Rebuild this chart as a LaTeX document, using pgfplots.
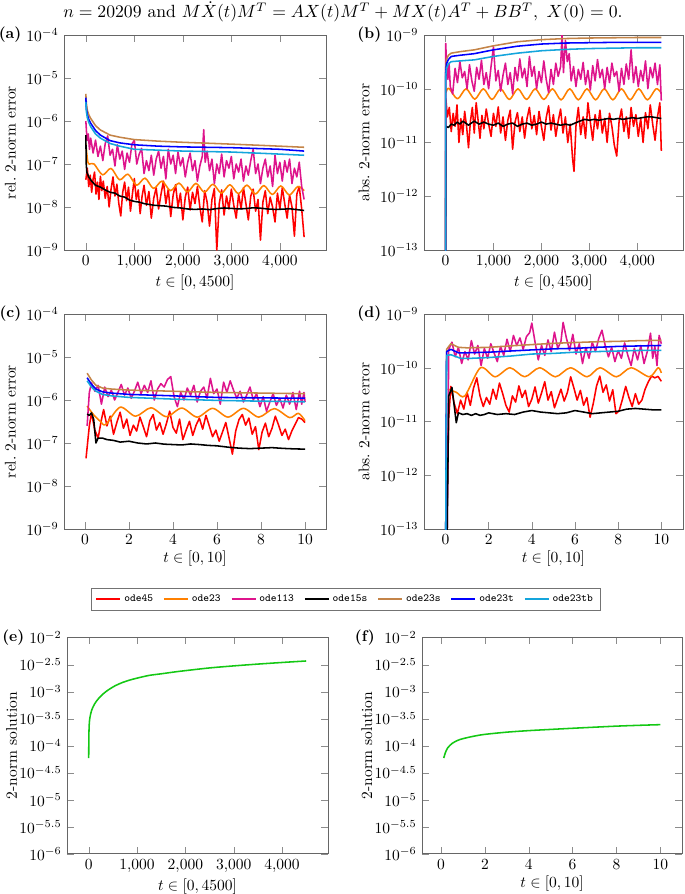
\documentclass[border=0pt]{standalone}
\usepackage{pgfplots}
\pgfplotsset{compat=1.18}
\definecolor{cfe}{RGB}{255,0,0}
\definecolor{ctt}{RGB}{255,128,0}
\definecolor{cot}{RGB}{222,20,140}
\definecolor{cfs}{RGB}{0,0,0}
\definecolor{cts}{RGB}{196,132,72}
\definecolor{ctr}{RGB}{0,0,255}
\definecolor{ctb}{RGB}{20,165,220}
\definecolor{cgr}{RGB}{20,200,20}
\pgfplotsset{
  every axis/.append style={scale only axis, yminorticks=false,
    axis line style={black!60}, tick style={black!45}},
  every axis x label/.append style={yshift=2.5pt},
  every axis plot/.append style={line width=1pt, line join=round},
}
\newcommand{\plabel}[3]{\node[anchor=east, font=\bfseries] at ([xshift=#2]#1.north west) {#3};}
\begin{document}
\begin{tikzpicture}
\useasboundingbox (0,0) rectangle (441.9pt,576.8pt);
\node[scale=1.14] at (221.3pt,569.2pt) {$n=20209$ and $M\dot{X}(t)M^T=AX(t)M^T+MX(t)A^T+BB^T,\ X(0)=0.$};

% (a)
\begin{axis}[ymode=log, anchor=south west, width=169pt, height=138.7pt, at={(41.3pt,415.5pt)}, name=pa,
  xmin=-450, xmax=4950, xtick={0,1000,2000,3000,4000}, xlabel={$t\in[0,4500]$},
  ymin=1e-9, ymax=1e-4, ytick={1e-9,1e-8,1e-7,1e-6,1e-5,1e-4}, ylabel={rel.\ 2-norm error}]
\addplot[cfe] coordinates {(0,4.3e-8)(30,8.0e-8)(60,3.0e-8)(90,5.5e-8)(120,2.2e-8)(150,4.5e-8)(180,6.5e-8)(210,2.0e-8)(240,3.8e-8)(270,1.5e-8)(300,5.2e-8)(330,2.4e-8)(360,4.0e-8)(400,1.6e-8)(440,3.0e-8)(480,1.0e-8)(520,2.6e-8)(560,5.0e-8)(600,1.8e-8)(640,3.4e-8)(680,1.2e-8)(720,6.2e-9)(760,2.2e-8)(800,3.8e-8)(840,1.4e-8)(880,2.9e-8)(920,8.0e-9)(960,2.0e-8)(1000,4.6e-8)(1040,1.5e-8)(1080,2.5e-8)(1120,7.0e-9)(1160,1.8e-8)(1200,3.2e-8)(1250,1.1e-8)(1300,2.3e-8)(1350,5.5e-9)(1400,1.6e-8)(1450,2.8e-8)(1500,9.0e-9)(1550,2.0e-8)(1600,4.0e-8)(1650,1.2e-8)(1700,2.6e-8)(1750,6.0e-9)(1800,1.9e-8)(1850,3.3e-8)(1900,1.0e-8)(1950,2.1e-8)(2000,5.0e-9)(2050,1.7e-8)(2100,2.9e-8)(2150,8.5e-9)(2200,2.2e-8)(2250,1.2e-8)(2300,3.0e-8)(2350,1.0e-8)(2400,4.5e-9)(2450,2.4e-8)(2500,1.3e-8)(2550,3.6e-9)(2600,1.5e-8)(2650,2.7e-8)(2700,1.0e-9)(2750,1.2e-8)(2800,2.5e-8)(2850,6.5e-9)(2900,1.8e-8)(2950,9.0e-9)(3000,2.6e-8)(3050,1.1e-8)(3100,5.5e-9)(3150,2.0e-8)(3200,9.0e-9)(3250,2.8e-8)(3300,1.2e-8)(3350,5.0e-9)(3400,1.8e-8)(3450,2.6e-8)(3500,8.0e-9)(3550,1.5e-8)(3600,1.7e-9)(3650,1.3e-8)(3700,2.4e-8)(3750,7.0e-9)(3800,1.7e-8)(3850,1.0e-8)(3900,4.5e-9)(3950,2.1e-8)(4000,9.0e-9)(4050,2.8e-8)(4100,1.2e-8)(4150,5.5e-9)(4200,1.9e-8)(4250,1.0e-8)(4300,2.1e-9)(4350,2.0e-8)(4400,3.0e-8)(4450,9.0e-9)(4500,2.0e-9)};
\addplot[ctt, smooth] coordinates {(0,3.0e-7)(40,1.12e-7)(80,1.0e-7)(170,1.0e-7)(345,5.6e-8)(520,7.9e-8)(695,4.3e-8)(870,5.8e-8)(1045,3.2e-8)(1220,4.7e-8)(1395,2.7e-8)(1570,4.0e-8)(1745,2.4e-8)(1920,3.6e-8)(2095,2.24e-8)(2270,3.55e-8)(2445,2.2e-8)(2620,3.4e-8)(2795,2.1e-8)(2970,3.3e-8)(3145,2.04e-8)(3320,3.24e-8)(3495,2.0e-8)(3670,3.16e-8)(3845,1.95e-8)(4020,3.1e-8)(4195,1.9e-8)(4370,3.0e-8)(4500,2.4e-8)};
\addplot[cot] coordinates {(0,1.0e-6)(25,3.5e-7)(50,5.0e-7)(75,2.2e-7)(100,4.0e-7)(150,1.8e-7)(200,3.6e-7)(250,1.5e-7)(300,2.6e-7)(350,1.2e-7)(400,3.0e-7)(450,4.5e-7)(500,1.6e-7)(550,2.2e-7)(600,9.0e-8)(650,2.8e-7)(700,1.3e-7)(750,2.0e-7)(800,7.5e-8)(850,1.8e-7)(900,1.1e-7)(950,2.9e-7)(1000,3.6e-7)(1050,1.0e-7)(1100,1.7e-7)(1150,2.3e-7)(1200,6.0e-8)(1250,1.2e-7)(1300,7.0e-8)(1350,1.6e-7)(1400,5.5e-8)(1450,1.3e-7)(1500,2.0e-7)(1550,8.0e-8)(1600,1.5e-7)(1650,4.5e-8)(1700,2.2e-7)(1750,1.0e-7)(1800,1.6e-7)(1850,6.0e-8)(1900,1.9e-7)(1950,9.0e-8)(2000,1.4e-7)(2050,5.0e-8)(2100,1.1e-7)(2150,1.8e-7)(2200,7.0e-8)(2250,1.2e-7)(2300,4.0e-8)(2350,9.0e-8)(2400,1.5e-7)(2430,6.3e-7)(2460,1.1e-7)(2500,2.0e-7)(2550,7.0e-8)(2600,1.3e-7)(2650,3.5e-8)(2700,1.0e-7)(2750,6.0e-8)(2800,1.7e-7)(2850,5.0e-8)(2900,1.2e-7)(2950,8.0e-8)(3000,1.5e-7)(3050,4.5e-8)(3100,1.0e-7)(3150,6.5e-8)(3200,1.3e-7)(3250,4.0e-8)(3300,9.0e-8)(3350,5.5e-8)(3400,1.2e-7)(3450,2.2e-7)(3500,6.0e-8)(3550,1.0e-7)(3600,3.5e-8)(3650,8.0e-8)(3700,1.3e-7)(3750,5.0e-8)(3800,9.0e-8)(3850,3.0e-8)(3900,1.6e-7)(3950,6.0e-8)(4000,1.1e-7)(4050,4.0e-8)(4100,1.2e-7)(4150,6.5e-8)(4200,1.3e-7)(4250,3.5e-8)(4300,8.0e-8)(4350,5.0e-8)(4400,1.1e-7)(4450,3.0e-8)(4500,1.5e-8)};
\addplot[cfs] coordinates {(0,4.7e-7)(8,1.0e-7)(20,6.5e-8)(60,5.0e-8)(120,4.0e-8)(200,3.2e-8)(300,2.9e-8)(400,2.5e-8)(500,2.2e-8)(600,2.1e-8)(700,1.8e-8)(800,1.7e-8)(900,1.45e-8)(1000,1.35e-8)(1100,1.3e-8)(1200,1.2e-8)(1300,1.15e-8)(1400,1.1e-8)(1500,1.08e-8)(1650,1.05e-8)(1800,9.8e-9)(1950,9.5e-9)(2100,9.0e-9)(2250,8.8e-9)(2400,9.0e-9)(2550,8.7e-9)(2700,9.2e-9)(2850,9.5e-9)(3000,9.3e-9)(3150,9.0e-9)(3300,9.2e-9)(3450,9.6e-9)(3600,9.4e-9)(3750,9.0e-9)(3900,8.8e-9)(4050,8.9e-9)(4200,9.1e-9)(4350,8.7e-9)(4500,8.3e-9)};
\addplot[cts] coordinates {(0,4.3e-6)(10,2.6e-6)(30,1.8e-6)(60,1.4e-6)(100,1.15e-6)(200,7.8e-7)(300,6.2e-7)(500,4.7e-7)(700,4.2e-7)(1000,3.7e-7)(1500,3.4e-7)(2000,3.2e-7)(2500,3.05e-7)(3000,2.9e-7)(3500,2.75e-7)(4000,2.6e-7)(4500,2.45e-7)};
\addplot[ctr] coordinates {(0,3.5e-6)(10,2.0e-6)(30,1.4e-6)(60,1.1e-6)(100,8.9e-7)(200,6.0e-7)(300,4.7e-7)(500,3.5e-7)(700,3.1e-7)(1000,2.8e-7)(1500,2.6e-7)(2000,2.5e-7)(2500,2.45e-7)(3000,2.4e-7)(3500,2.3e-7)(4000,2.2e-7)(4500,2.0e-7)};
\addplot[ctb] coordinates {(0,2.8e-6)(10,1.7e-6)(30,1.2e-6)(60,9.3e-7)(100,7.4e-7)(200,5.0e-7)(300,4.0e-7)(500,3.0e-7)(700,2.6e-7)(1000,2.2e-7)(1500,2.1e-7)(2000,2.0e-7)(2500,1.95e-7)(3000,1.9e-7)(3500,1.8e-7)(4000,1.7e-7)(4500,1.6e-7)};
\end{axis}
\plabel{pa}{-24pt}{(a)}

% (b)
\begin{axis}[ymode=log, anchor=south west, width=167.1pt, height=138.7pt, at={(273.5pt,415.5pt)}, name=pb,
  xmin=-450, xmax=4950, xtick={0,1000,2000,3000,4000}, xlabel={$t\in[0,4500]$},
  ymin=1e-13, ymax=1e-9, ytick={1e-13,1e-12,1e-11,1e-10,1e-9}, ylabel={abs.\ 2-norm error}]
\addplot[cfe] coordinates {(0,1e-14)(8,6.5e-11)(40,3.0e-11)(80,4.5e-11)(120,1.6e-11)(160,3.5e-11)(200,2.0e-11)(240,5.0e-11)(280,1.0e-11)(320,2.8e-11)(360,1.4e-11)(400,3.8e-11)(440,2.0e-11)(480,8.0e-12)(520,2.5e-11)(560,4.5e-11)(600,1.5e-11)(640,5.5e-11)(680,2.6e-11)(720,1.2e-11)(760,3.2e-11)(800,1.8e-11)(850,4.2e-11)(900,2.2e-11)(950,1.3e-11)(1000,3.5e-11)(1050,2.0e-11)(1100,4.6e-11)(1150,1.5e-11)(1200,3.0e-11)(1250,1.1e-11)(1300,2.6e-11)(1350,4.0e-11)(1400,7.5e-12)(1450,2.4e-11)(1500,3.6e-11)(1550,1.6e-11)(1600,3.0e-11)(1650,1.2e-11)(1700,2.8e-11)(1750,4.5e-11)(1800,1.8e-11)(1850,3.2e-11)(1900,1.4e-11)(1950,3.8e-11)(2000,2.0e-11)(2050,1.1e-11)(2100,2.9e-11)(2150,4.8e-11)(2200,1.7e-11)(2250,3.3e-11)(2300,1.3e-11)(2350,2.5e-11)(2400,4.2e-11)(2450,1.5e-11)(2500,3.0e-11)(2550,1.0e-11)(2600,2.2e-11)(2650,5.0e-12)(2680,2.9e-12)(2720,2.0e-11)(2770,4.5e-11)(2820,1.4e-11)(2870,3.0e-11)(2920,1.2e-11)(2970,5.5e-11)(3020,2.4e-11)(3070,1.1e-11)(3120,3.3e-11)(3170,1.8e-11)(3220,4.0e-11)(3270,1.5e-11)(3320,2.8e-11)(3370,1.0e-11)(3420,3.5e-11)(3470,2.0e-11)(3520,9.0e-12)(3570,5.6e-12)(3620,2.5e-11)(3670,4.2e-11)(3720,1.6e-11)(3770,3.0e-11)(3820,1.2e-11)(3870,4.5e-11)(3920,2.0e-11)(3970,3.3e-11)(4020,1.3e-11)(4070,2.8e-11)(4120,1.0e-11)(4170,3.6e-11)(4220,1.8e-11)(4270,5.0e-11)(4320,2.2e-11)(4370,1.1e-11)(4420,3.0e-11)(4470,5.5e-11)(4500,7.0e-12)};
\addplot[ctt, smooth] coordinates {(10,8.5e-11)(70,1.02e-10)(250,6.5e-11)(430,1.0e-10)(610,6.4e-11)(790,1.0e-10)(970,6.3e-11)(1150,1.0e-10)(1330,6.3e-11)(1510,1.0e-10)(1690,6.3e-11)(1870,1.0e-10)(2050,6.3e-11)(2230,1.0e-10)(2410,6.2e-11)(2590,1.0e-10)(2770,6.2e-11)(2950,1.0e-10)(3130,6.2e-11)(3310,1.0e-10)(3490,6.2e-11)(3670,1.0e-10)(3850,6.2e-11)(4030,1.0e-10)(4210,6.2e-11)(4390,1.0e-10)(4500,8.3e-11)};
\addplot[cot] coordinates {(0,1e-14)(5,7.0e-10)(25,2.5e-10)(50,1.5e-10)(75,3.0e-10)(100,1.1e-10)(150,8.0e-11)(200,2.4e-10)(250,1.3e-10)(300,3.2e-10)(350,1.6e-10)(400,2.1e-10)(450,1.0e-10)(500,2.8e-10)(550,1.4e-10)(600,9.0e-11)(650,2.5e-10)(700,1.5e-10)(750,3.4e-10)(800,1.2e-10)(850,2.0e-10)(900,1.0e-10)(950,2.6e-10)(1000,6.0e-10)(1050,1.4e-10)(1100,2.2e-10)(1150,9.0e-11)(1200,1.8e-10)(1250,3.0e-10)(1300,1.2e-10)(1350,2.0e-10)(1400,8.0e-11)(1450,2.5e-10)(1500,1.4e-10)(1550,3.6e-10)(1600,1.6e-10)(1650,2.4e-10)(1700,1.1e-10)(1750,4.0e-10)(1800,1.7e-10)(1850,2.6e-10)(1900,1.0e-10)(1950,2.1e-10)(2000,1.3e-10)(2050,3.3e-10)(2100,1.5e-10)(2150,8.5e-11)(2200,2.3e-10)(2250,1.2e-10)(2300,3.0e-10)(2350,1.7e-10)(2400,2.6e-10)(2430,1.0e-9)(2460,2.0e-10)(2500,8.0e-10)(2540,3.2e-10)(2580,4.5e-10)(2620,1.4e-10)(2670,2.6e-10)(2720,1.1e-10)(2770,2.3e-10)(2820,1.5e-10)(2870,3.1e-10)(2920,1.2e-10)(2970,2.2e-10)(3020,9.5e-11)(3070,2.7e-10)(3120,1.4e-10)(3170,3.5e-10)(3220,1.6e-10)(3270,2.3e-10)(3320,1.0e-10)(3370,2.5e-10)(3420,1.3e-10)(3470,3.0e-10)(3520,1.7e-10)(3570,2.1e-10)(3620,9.0e-11)(3670,2.4e-10)(3720,1.2e-10)(3770,2.9e-10)(3820,1.5e-10)(3870,5.3e-10)(3920,1.3e-10)(3970,2.6e-10)(4020,1.1e-10)(4070,2.2e-10)(4120,1.4e-10)(4170,3.3e-10)(4220,1.0e-10)(4270,2.5e-10)(4320,1.6e-10)(4370,3.0e-10)(4420,1.2e-10)(4470,2.8e-10)(4500,6.0e-11)};
\addplot[cfs] coordinates {(0,1e-14)(10,2.0e-11)(60,1.9e-11)(120,2.2e-11)(180,2.1e-11)(240,2.4e-11)(300,2.2e-11)(360,2.5e-11)(420,2.3e-11)(480,2.1e-11)(540,2.3e-11)(600,2.5e-11)(700,2.2e-11)(800,2.4e-11)(900,2.2e-11)(1000,2.1e-11)(1100,2.3e-11)(1200,2.0e-11)(1300,2.2e-11)(1400,2.3e-11)(1500,2.0e-11)(1600,2.2e-11)(1700,2.3e-11)(1800,2.1e-11)(1900,2.2e-11)(2000,2.4e-11)(2100,2.2e-11)(2200,2.3e-11)(2300,2.2e-11)(2400,2.1e-11)(2500,2.2e-11)(2600,2.1e-11)(2700,2.3e-11)(2800,2.5e-11)(2900,2.7e-11)(3000,2.6e-11)(3100,2.7e-11)(3200,2.6e-11)(3300,2.7e-11)(3400,2.8e-11)(3500,2.7e-11)(3600,2.8e-11)(3700,2.7e-11)(3800,2.8e-11)(3900,2.9e-11)(4000,2.8e-11)(4100,2.9e-11)(4200,3.0e-11)(4300,3.0e-11)(4400,2.9e-11)(4500,2.8e-11)};
\addplot[cts] coordinates {(0,1e-14)(5,2.5e-10)(20,3.5e-10)(60,4.2e-10)(120,4.6e-10)(300,4.9e-10)(600,5.3e-10)(1000,6.3e-10)(1500,7.5e-10)(2000,8.2e-10)(2500,8.6e-10)(3000,8.8e-10)(3500,8.9e-10)(4000,9.0e-10)(4500,9.0e-10)};
\addplot[ctr] coordinates {(0,1e-14)(5,2.0e-10)(20,2.9e-10)(60,3.5e-10)(120,4.0e-10)(300,4.2e-10)(600,4.5e-10)(1000,5.3e-10)(1500,6.2e-10)(2000,6.8e-10)(2500,7.1e-10)(3000,7.2e-10)(3500,7.3e-10)(4000,7.3e-10)(4500,7.3e-10)};
\addplot[ctb] coordinates {(0,1e-14)(5,1.7e-10)(20,2.4e-10)(60,2.9e-10)(120,3.2e-10)(300,3.3e-10)(600,3.45e-10)(1000,4.0e-10)(1500,4.6e-10)(2000,5.1e-10)(2500,5.4e-10)(3000,5.6e-10)(3500,5.7e-10)(4000,5.8e-10)(4500,5.8e-10)};
\end{axis}
\plabel{pb}{-24pt}{(b)}

% (c)
\begin{axis}[ymode=log, anchor=south west, width=169pt, height=138.7pt, at={(41.3pt,235.5pt)}, name=pc,
  xmin=-0.95, xmax=10.95, xtick={0,2,4,6,8,10}, xlabel={$t\in[0,10]$},
  ymin=1e-9, ymax=1e-4, ytick={1e-9,1e-8,1e-7,1e-6,1e-5,1e-4}, ylabel={rel.\ 2-norm error},
  legend columns=7, legend image post style={line width=1pt},
  legend image code/.code={\draw[#1] (0pt,0pt) -- (15.5pt,0pt);},
  legend style={at={(1.076,-0.326)}, anchor=center, draw=black!55, font=\scriptsize\ttfamily,
  /tikz/every even column/.append style={column sep=4.5pt}}]
\addplot[draw=cfe] coordinates {(0.05,4.4e-8)(0.2,2.5e-7)(0.3,5.0e-7)(0.45,2.0e-7)(0.6,1.3e-7)(0.75,3.5e-7)(0.85,6.0e-7)(1.0,2.5e-7)(1.15,4.2e-7)(1.3,1.6e-7)(1.45,3.0e-7)(1.6,5.2e-7)(1.75,2.2e-7)(1.9,3.6e-7)(2.05,1.5e-7)(2.2,2.6e-7)(2.35,1.9e-7)(2.5,4.0e-7)(2.65,2.4e-7)(2.8,1.4e-7)(2.95,3.3e-7)(3.1,4.6e-7)(3.25,2.0e-7)(3.4,3.0e-7)(3.55,1.6e-7)(3.7,2.8e-7)(3.85,5.5e-7)(4.0,2.3e-7)(4.15,1.7e-7)(4.3,3.6e-7)(4.45,1.2e-7)(4.6,2.0e-7)(4.75,3.2e-7)(4.9,1.5e-7)(5.05,2.6e-7)(5.2,3.8e-7)(5.35,2.1e-7)(5.5,4.4e-7)(5.65,2.5e-7)(5.8,1.4e-7)(5.95,2.0e-7)(6.1,1.1e-7)(6.25,1.8e-7)(6.4,3.0e-7)(6.55,1.3e-7)(6.7,5.5e-8)(6.85,1.9e-7)(7.0,3.5e-7)(7.15,4.6e-7)(7.3,2.6e-7)(7.45,3.8e-7)(7.6,1.6e-7)(7.75,2.4e-7)(7.9,7.0e-8)(8.05,1.8e-7)(8.2,2.9e-7)(8.35,1.4e-7)(8.5,2.2e-7)(8.65,4.2e-7)(8.8,2.6e-7)(8.95,1.5e-7)(9.1,2.1e-7)(9.25,1.2e-7)(9.4,1.9e-7)(9.55,2.7e-7)(9.7,3.9e-7)(9.85,3.6e-7)(10,3.0e-7)};
\addplot[draw=ctt, smooth] coordinates {(0.1,7.2e-7)(0.4,4.5e-7)(0.7,3.2e-7)(0.95,2.7e-7)(1.6,6.8e-7)(2.3,4.2e-7)(3.0,6.6e-7)(3.7,4.1e-7)(4.4,6.5e-7)(5.1,4.0e-7)(5.8,6.4e-7)(6.5,4.0e-7)(7.2,6.4e-7)(7.9,4.0e-7)(8.6,6.3e-7)(9.3,3.9e-7)(9.7,4.9e-7)(10,3.3e-7)};
\addplot[draw=cot] coordinates {(0.1,2.5e-7)(0.2,1.5e-6)(0.3,2.5e-6)(0.45,1.6e-6)(0.6,2.2e-6)(0.75,8.0e-7)(0.9,2.0e-6)(1.05,1.2e-6)(1.2,1.7e-6)(1.35,1.0e-6)(1.5,1.5e-6)(1.65,2.3e-6)(1.8,1.3e-6)(1.95,1.9e-6)(2.1,1.1e-6)(2.25,1.6e-6)(2.4,2.6e-6)(2.55,1.4e-6)(2.7,2.2e-6)(2.85,1.5e-6)(3.0,2.8e-6)(3.15,1.0e-6)(3.3,1.8e-6)(3.45,2.4e-6)(3.6,2.0e-6)(3.75,3.0e-6)(3.9,3.5e-6)(4.05,1.2e-6)(4.2,7.0e-7)(4.35,1.5e-6)(4.5,1.0e-6)(4.65,1.9e-6)(4.8,1.3e-6)(4.95,2.2e-6)(5.1,9.0e-7)(5.25,1.6e-6)(5.4,2.0e-6)(5.55,1.1e-6)(5.7,3.2e-6)(5.85,1.4e-6)(6.0,1.8e-6)(6.15,8.0e-7)(6.3,2.6e-6)(6.45,1.5e-6)(6.6,2.8e-6)(6.75,1.7e-6)(6.9,1.1e-6)(7.05,1.6e-6)(7.2,9.0e-7)(7.35,1.3e-6)(7.5,2.0e-6)(7.65,1.0e-6)(7.8,1.4e-6)(7.95,7.0e-7)(8.1,1.2e-6)(8.25,5.5e-7)(8.4,9.0e-7)(8.55,1.4e-6)(8.7,7.5e-7)(8.85,1.1e-6)(9.0,6.5e-7)(9.15,1.3e-6)(9.3,8.0e-7)(9.45,1.5e-6)(9.6,6.0e-7)(9.75,1.6e-6)(9.85,8.0e-7)(9.95,1.5e-6)(10,9.0e-7)};
\addplot[draw=cfs] coordinates {(0.1,4.7e-7)(0.2,4.4e-7)(0.3,5.0e-7)(0.4,3.5e-7)(0.5,1.0e-7)(0.6,1.3e-7)(0.8,1.3e-7)(1.0,1.2e-7)(1.3,1.15e-7)(1.6,1.05e-7)(2.0,1.1e-7)(2.4,1.0e-7)(2.8,9.5e-8)(3.2,1.0e-7)(3.6,9.4e-8)(4.0,9.2e-8)(4.4,9.0e-8)(4.8,9.5e-8)(5.2,9.2e-8)(5.6,8.8e-8)(6.0,8.6e-8)(6.5,8.0e-8)(7.0,7.6e-8)(7.5,7.4e-8)(8.0,7.6e-8)(8.5,7.8e-8)(9.0,7.5e-8)(9.5,7.3e-8)(10,7.2e-8)};
\addplot[draw=cts] coordinates {(0.1,4.2e-6)(0.3,2.9e-6)(0.5,2.2e-6)(0.8,1.9e-6)(1.2,1.8e-6)(2,1.7e-6)(3,1.65e-6)(4,1.6e-6)(6,1.5e-6)(8,1.45e-6)(10,1.4e-6)};
\addplot[draw=ctr] coordinates {(0.1,3.3e-6)(0.3,2.3e-6)(0.5,1.8e-6)(0.8,1.55e-6)(1.2,1.45e-6)(2,1.35e-6)(3,1.3e-6)(4,1.25e-6)(6,1.15e-6)(8,1.12e-6)(10,1.1e-6)};
\addplot[draw=ctb] coordinates {(0.1,2.8e-6)(0.3,2.0e-6)(0.5,1.6e-6)(0.8,1.35e-6)(1.2,1.25e-6)(2,1.15e-6)(3,1.1e-6)(4,1.05e-6)(6,9.8e-7)(8,9.4e-7)(10,9.1e-7)};
\legend{ode45,ode23,ode113,ode15s,ode23s,ode23t,ode23tb}
\end{axis}
\plabel{pc}{-24pt}{(c)}

% (d)
\begin{axis}[ymode=log, anchor=south west, width=167.1pt, height=138.7pt, at={(273.5pt,235.5pt)}, name=pd,
  xmin=-1, xmax=11, xtick={0,2,4,6,8,10}, xlabel={$t\in[0,10]$},
  ymin=1e-13, ymax=1e-9, ytick={1e-13,1e-12,1e-11,1e-10,1e-9}, ylabel={abs.\ 2-norm error}]
\addplot[cfe] coordinates {(0,1e-14)(0.05,1e-13)(0.15,1.2e-11)(0.25,4.5e-11)(0.4,2.2e-11)(0.55,1.4e-11)(0.7,2.5e-11)(0.85,1.7e-11)(1.0,3.5e-11)(1.15,2.0e-11)(1.3,4.2e-11)(1.45,6.5e-11)(1.6,3.0e-11)(1.75,1.9e-11)(1.9,2.8e-11)(2.05,2.1e-11)(2.2,4.0e-11)(2.35,2.6e-11)(2.5,5.2e-11)(2.65,3.3e-11)(2.8,2.0e-11)(2.95,1.5e-11)(3.1,3.0e-11)(3.25,2.3e-11)(3.4,4.6e-11)(3.55,2.8e-11)(3.7,3.8e-11)(3.85,1.9e-11)(4.0,2.6e-11)(4.15,4.4e-11)(4.3,2.2e-11)(4.45,3.4e-11)(4.6,5.5e-11)(4.75,2.5e-11)(4.9,3.6e-11)(5.05,1.8e-11)(5.2,2.7e-11)(5.35,4.0e-11)(5.5,2.4e-11)(5.65,3.5e-11)(5.8,6.8e-11)(5.95,4.2e-11)(6.1,2.5e-11)(6.25,3.8e-11)(6.4,2.0e-11)(6.55,2.8e-11)(6.7,1.2e-11)(6.85,2.2e-11)(7.0,4.6e-11)(7.15,7.0e-11)(7.3,3.5e-11)(7.45,4.8e-11)(7.6,2.4e-11)(7.75,3.9e-11)(7.9,1.4e-11)(8.05,1.6e-11)(8.2,2.6e-11)(8.35,4.5e-11)(8.5,2.8e-11)(8.65,1.9e-11)(8.8,3.3e-11)(8.95,2.1e-11)(9.1,2.5e-11)(9.25,4.0e-11)(9.4,5.5e-11)(9.55,7.0e-11)(9.7,6.5e-11)(9.85,6.9e-11)(10,5.6e-11)};
\addplot[ctt, smooth] coordinates {(0.1,4.0e-11)(0.5,3.5e-11)(0.9,3.0e-11)(1.62,1.0e-10)(2.3,6.8e-11)(2.99,1.0e-10)(3.67,6.8e-11)(4.36,1.0e-10)(5.1,6.8e-11)(5.79,1.0e-10)(6.56,6.8e-11)(7.16,1.0e-10)(7.92,6.8e-11)(8.6,1.0e-10)(9.44,6.8e-11)(9.85,1.0e-10)(10,8.0e-11)};
\addplot[cot] coordinates {(0,1e-14)(0.08,1e-13)(0.15,2.2e-10)(0.3,3.0e-10)(0.45,1.6e-10)(0.6,2.4e-10)(0.75,1.2e-10)(0.9,2.0e-10)(1.05,1.4e-10)(1.2,3.2e-10)(1.35,1.8e-10)(1.5,2.6e-10)(1.65,1.1e-10)(1.8,2.3e-10)(1.95,1.5e-10)(2.1,2.8e-10)(2.25,1.9e-10)(2.4,1.3e-10)(2.55,2.5e-10)(2.7,1.7e-10)(2.85,3.4e-10)(3.0,2.0e-10)(3.15,4.0e-10)(3.3,2.6e-10)(3.45,3.6e-10)(3.6,2.2e-10)(3.75,3.8e-10)(3.9,4.5e-10)(4.0,6.8e-10)(4.15,3.0e-10)(4.3,1.4e-10)(4.45,2.6e-10)(4.6,1.7e-10)(4.75,3.3e-10)(4.9,2.0e-10)(5.05,4.6e-10)(5.2,2.3e-10)(5.35,3.1e-10)(5.45,7.0e-10)(5.6,3.6e-10)(5.75,2.1e-10)(5.9,4.2e-10)(6.05,1.8e-10)(6.2,2.8e-10)(6.35,1.2e-10)(6.5,2.4e-10)(6.65,1.5e-10)(6.8,3.0e-10)(6.95,2.0e-10)(7.1,3.5e-10)(7.25,5.0e-10)(7.4,2.6e-10)(7.55,1.6e-10)(7.7,2.4e-10)(7.85,1.3e-10)(8.0,2.1e-10)(8.15,1.5e-10)(8.3,2.9e-10)(8.45,1.7e-10)(8.6,1.1e-10)(8.75,2.3e-10)(8.9,1.4e-10)(9.05,2.6e-10)(9.2,1.2e-10)(9.35,2.0e-10)(9.5,4.4e-10)(9.6,1.5e-10)(9.7,2.5e-10)(9.8,1.1e-10)(9.9,4.0e-10)(10,2.8e-10)};
\addplot[cfs] coordinates {(0,1e-14)(0.08,1e-13)(0.15,3.0e-11)(0.3,4.3e-11)(0.5,9.5e-12)(0.6,1.45e-11)(0.8,1.35e-11)(1.0,1.4e-11)(1.2,1.3e-11)(1.4,1.4e-11)(1.6,1.3e-11)(1.8,1.35e-11)(2.0,1.45e-11)(2.4,1.35e-11)(2.8,1.4e-11)(3.2,1.35e-11)(3.6,1.5e-11)(4.0,1.6e-11)(4.4,1.5e-11)(4.8,1.45e-11)(5.2,1.4e-11)(5.6,1.45e-11)(6.0,1.6e-11)(6.4,1.5e-11)(6.8,1.4e-11)(7.2,1.45e-11)(7.6,1.5e-11)(8.0,1.55e-11)(8.4,1.7e-11)(8.8,1.75e-11)(9.2,1.7e-11)(9.6,1.65e-11)(10,1.65e-11)};
\addplot[cts] coordinates {(0,1e-14)(0.05,2.2e-10)(0.25,2.8e-10)(0.6,2.4e-10)(1,2.35e-10)(2,2.4e-10)(3,2.55e-10)(4,2.7e-10)(5,2.85e-10)(6,2.95e-10)(7,3.05e-10)(8,3.1e-10)(9,3.2e-10)(10,3.25e-10)};
\addplot[ctr] coordinates {(0,1e-14)(0.05,2.0e-10)(0.25,2.2e-10)(0.6,1.9e-10)(1,1.9e-10)(2,1.95e-10)(3,2.05e-10)(4,2.15e-10)(5,2.25e-10)(6,2.3e-10)(7,2.4e-10)(8,2.5e-10)(9,2.55e-10)(10,2.6e-10)};
\addplot[ctb] coordinates {(0,1e-14)(0.05,1.7e-10)(0.25,1.75e-10)(0.7,1.5e-10)(1.2,1.5e-10)(2,1.55e-10)(3,1.65e-10)(4,1.8e-10)(5,1.85e-10)(6,1.95e-10)(7,2.0e-10)(8,2.05e-10)(9,2.1e-10)(10,2.1e-10)};
\end{axis}
\plabel{pd}{-24pt}{(d)}

% (e)
\begin{axis}[ymode=log, anchor=south west, width=168.4pt, height=139.4pt, at={(43.2pt,26pt)}, name=pe,
  xmin=-450, xmax=4950, xtick={0,1000,2000,3000,4000}, xlabel={$t\in[0,4500]$},
  ymin=1e-6, ymax=1e-2, ylabel={2-norm solution},
  ylabel style={at={(axis description cs:-0.212,0.5)}, anchor=center},
  ytick={1e-6,3.16228e-6,1e-5,3.16228e-5,1e-4,3.16228e-4,1e-3,3.16228e-3,1e-2},
  yticklabels={$10^{-6}$,$10^{-5.5}$,$10^{-5}$,$10^{-4.5}$,$10^{-4}$,$10^{-3.5}$,$10^{-3}$,$10^{-2.5}$,$10^{-2}$}]
\addplot[cgr, smooth] coordinates {(0,5.9e-5)(3,1.4e-4)(10,2.4e-4)(25,3.3e-4)(60,4.5e-4)(120,5.9e-4)(200,7.4e-4)(300,9.1e-4)(400,1.07e-3)(550,1.29e-3)(700,1.48e-3)(850,1.64e-3)(1000,1.78e-3)(1250,2.0e-3)(1500,2.14e-3)(1750,2.3e-3)(2000,2.45e-3)(2500,2.75e-3)(3000,3.0e-3)(3500,3.24e-3)(4000,3.47e-3)(4500,3.7e-3)};
\end{axis}
\plabel{pe}{-24pt}{(e)}

% (f)
\begin{axis}[ymode=log, anchor=south west, width=167.7pt, height=139.4pt, at={(272.3pt,26pt)}, name=pf,
  xmin=-0.87, xmax=10.99, xtick={0,2,4,6,8,10}, xlabel={$t\in[0,10]$},
  ymin=1e-6, ymax=1e-2, ylabel={2-norm solution},
  ylabel style={at={(axis description cs:-0.212,0.5)}, anchor=center},
  ytick={1e-6,3.16228e-6,1e-5,3.16228e-5,1e-4,3.16228e-4,1e-3,3.16228e-3,1e-2},
  yticklabels={$10^{-6}$,$10^{-5.5}$,$10^{-5}$,$10^{-4.5}$,$10^{-4}$,$10^{-3.5}$,$10^{-3}$,$10^{-2.5}$,$10^{-2}$}]
\addplot[cgr, smooth] coordinates {(0.12,5.9e-5)(0.2,7.5e-5)(0.3,9.1e-5)(0.5,1.1e-4)(0.75,1.25e-4)(1,1.35e-4)(1.5,1.5e-4)(2,1.62e-4)(3,1.78e-4)(4,1.9e-4)(5,2.0e-4)(6,2.1e-4)(7,2.2e-4)(8,2.3e-4)(9,2.38e-4)(10,2.45e-4)};
\end{axis}
\plabel{pf}{-27pt}{(f)}
\end{tikzpicture}
\end{document}
